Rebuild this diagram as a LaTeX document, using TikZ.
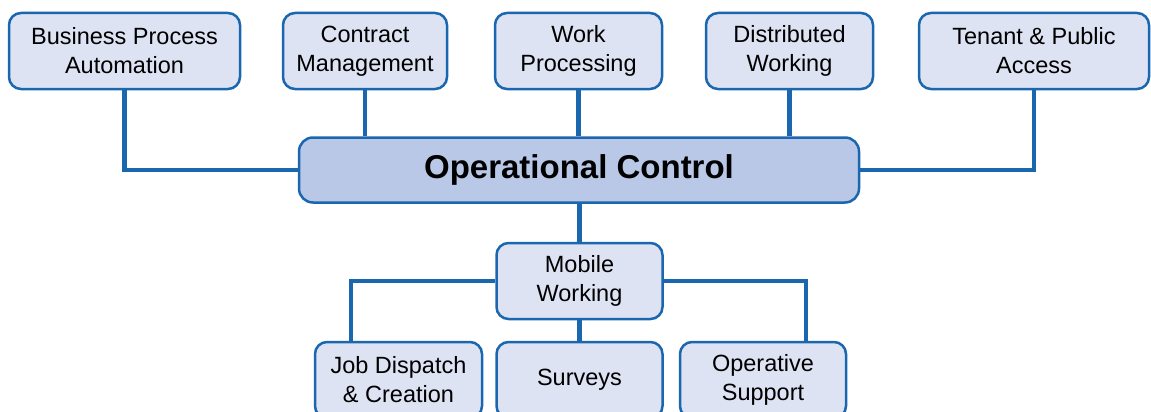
\documentclass[tikz,border=0pt]{standalone}
\usepackage{fontspec}
\setmainfont{Liberation Sans}
\usetikzlibrary{backgrounds}
\definecolor{edge}{HTML}{1A67B0}
\definecolor{boxfill}{HTML}{DDE3F3}
\definecolor{mainfill}{HTML}{B8C8E6}
\tikzset{
  box/.style={draw=edge, line width=2.5pt, fill=boxfill, rounded corners=12pt,
    minimum height=76pt, align=center, inner sep=0pt,
    font=\fontsize{23.5}{29}\selectfont},
  mainbox/.style={draw=edge, line width=2.5pt, fill=mainfill, rounded corners=14pt,
    minimum width=560pt, minimum height=65pt, inner sep=0pt,
    font=\fontsize{33}{38}\selectfont\bfseries},
  link/.style={draw=edge, line width=4.5pt}
}
\begin{document}
\begin{tikzpicture}[x=1pt,y=-1pt]
\useasboundingbox (0,0) rectangle (1151,412);
\node[box, minimum width=231pt] (bpa) at (124.5,51) {Business Process\\Automation};
\node[box, minimum width=164pt] (cm) at (365,51) {Contract\\Management};
\node[box, minimum width=167pt] (wp) at (578.5,51) {Work\\Processing};
\node[box, minimum width=167pt] (dw) at (789.5,51) {Distributed\\Working};
\node[box, minimum width=230pt] (tpa) at (1034,51) {Tenant \& Public\\Access};
\node[mainbox] (oc) at (579,170) {Operational Control};
\node[box, minimum width=166pt] (mw) at (579.5,281) {Mobile\\Working};
\node[box, minimum width=167pt] (jd) at (398.5,380) {Job Dispatch\\\& Creation};
\node[box, minimum width=166pt] (sv) at (579.5,380) {Surveys};
\node[box, minimum width=166pt] (os) at (763,380) {Operative\\Support};
\begin{scope}[on background layer]
\draw[link] (bpa.south) |- (oc.west);
\draw[link] (tpa.south) |- (oc.east);
\draw[link] (cm.south) -- (cm.south |- oc.north);
\draw[link] (wp.south) -- (wp.south |- oc.north);
\draw[link] (dw.south) -- (dw.south |- oc.north);
\draw[link] (oc.south -| mw.north) -- (mw.north);
\draw[link] (mw.west) -| (jd.north -| 351,0);
\draw[link] (mw.east) -| (os.north -| 806,0);
\draw[link] (mw.south) -- (sv.north);
\end{scope}
\end{tikzpicture}
\end{document}
